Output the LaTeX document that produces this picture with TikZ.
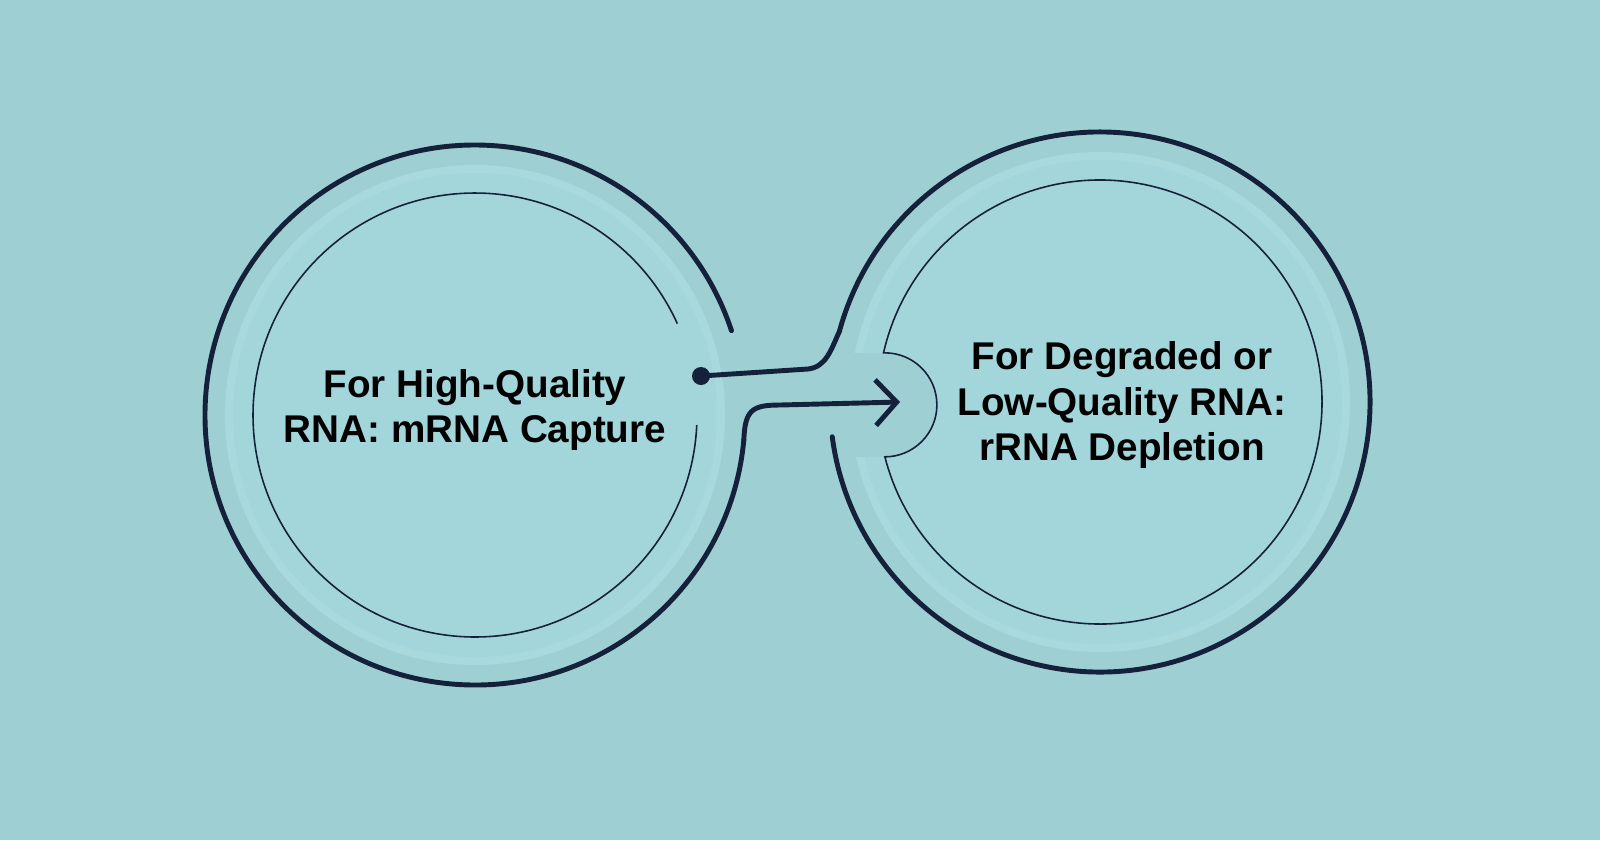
\documentclass[tikz,border=0pt]{standalone}
\usepackage{fontspec}
\setmainfont{Liberation Sans}
\usetikzlibrary{arrows.meta}
\definecolor{bgc}{HTML}{9DCFD3}
\definecolor{ringc}{HTML}{A8D9DD}
\definecolor{discc}{HTML}{A3D6DB}
\definecolor{navy}{HTML}{15203A}
\tikzset{
  ring/.style={draw=navy, line width=2.8pt, line cap=round},
  thin/.style={draw=navy, line width=0.9pt},
  label/.style={align=center, font=\bfseries\fontsize{22}{26}\selectfont, text=black}
}
\begin{document}
\begin{tikzpicture}[x=0.02cm, y=-0.02cm]
    % background
    \fill [bgc] (0, 0) rectangle (1600, 840);
    \useasboundingbox (0, 0) rectangle (1600, 840);

    % discs
    \fill [ringc] (475, 415) circle (250);
    \fill [discc] (475, 415) circle (242);
    \fill [ringc] (1100, 402) circle (250);
    \fill [discc] (1100, 402) circle (242);
    \fill [bgc] (840, 353) -- (884, 353) arc (-90:90:52) -- (840, 457) -- cycle;

    % inner thin circles
    \draw [thin] (475, 415) ++(2.6:222) arc (2.6:335.7:222);
    \draw [thin] (1100, 402) ++(192.8:222) arc (192.8:525.7:222)
        arc (90:-90:52) -- cycle;

    % outer rings
    \draw [ring] (475, 415) ++(5.3:270) coordinate (lbot) arc (5.3:341.8:270);
    \draw [ring] (1100, 402) ++(195.2:270) coordinate (rtop) arc (195.2:532.6:270);

    % connectors
    \coordinate (dot) at (701, 376);
    \coordinate (tip) at (900, 402);
    \fill [navy] (dot) circle (9);
    \draw [ring] (dot) -- (808, 369) .. controls (826, 367) and (831, 350) .. (rtop);
    \draw [ring, -{Straight Barb[length=12pt, width=26pt, line width=2.8pt]}] (lbot)
        .. controls (745, 410) and (752, 405) .. (780, 405) -- (tip);

    % labels
    \node [label] (left) at (475, 410) {For High-Quality\\RNA: mRNA Capture};
    \node [label] (right) at (1122, 405) {For Degraded or\\Low-Quality RNA:\\rRNA Depletion};
\end{tikzpicture}
\end{document}
